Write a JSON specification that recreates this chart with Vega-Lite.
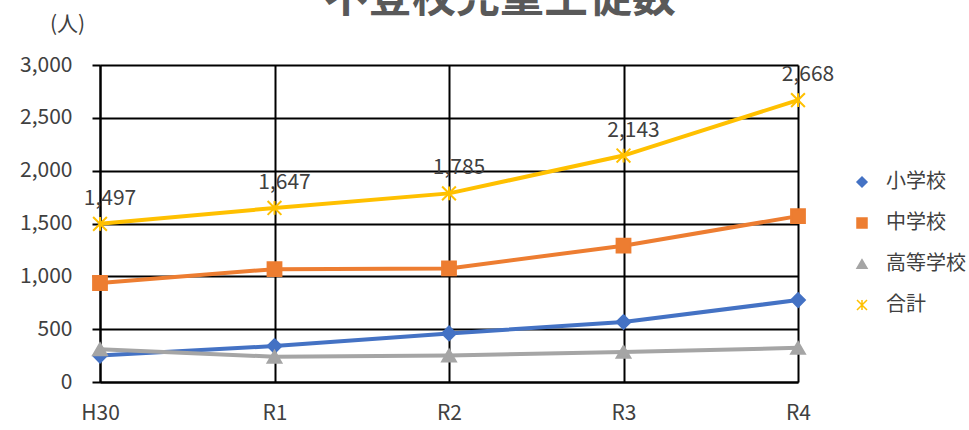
{
  "$schema": "https://vega.github.io/schema/vega-lite/v6.json",
  "autosize": {"type": "none"},
  "padding": {"left": 100, "top": 65, "right": 171, "bottom": 48},
  "width": 698,
  "height": 317,
  "background": "white",
  "title": {"text": "不登校児童生徒数", "fontSize": 44, "fontWeight": "bold", "color": "#595959", "font": "Noto Sans CJK JP", "anchor": "middle", "frame": "group", "offset": -8, "dx": 51},
  "config": {"view": {"stroke": null}, "font": "Noto Sans CJK JP"},
  "data": {"values": [
    {"year": "H30", "series": "小学校", "v": 250},
    {"year": "R1", "series": "小学校", "v": 340},
    {"year": "R2", "series": "小学校", "v": 460},
    {"year": "R3", "series": "小学校", "v": 568},
    {"year": "R4", "series": "小学校", "v": 775},
    {"year": "H30", "series": "中学校", "v": 937},
    {"year": "R1", "series": "中学校", "v": 1068},
    {"year": "R2", "series": "中学校", "v": 1075},
    {"year": "R3", "series": "中学校", "v": 1290},
    {"year": "R4", "series": "中学校", "v": 1570},
    {"year": "H30", "series": "高等学校", "v": 310},
    {"year": "R1", "series": "高等学校", "v": 239},
    {"year": "R2", "series": "高等学校", "v": 250},
    {"year": "R3", "series": "高等学校", "v": 285},
    {"year": "R4", "series": "高等学校", "v": 323},
    {"year": "H30", "series": "合計", "v": 1497},
    {"year": "R1", "series": "合計", "v": 1647},
    {"year": "R2", "series": "合計", "v": 1785},
    {"year": "R3", "series": "合計", "v": 2143},
    {"year": "R4", "series": "合計", "v": 2668}
  ]},
  "encoding": {
    "x": {"field": "year", "type": "ordinal", "sort": null,
      "scale": {"type": "point", "padding": 0},
      "axis": {"title": null, "labelAngle": 0, "labelFontSize": 21, "labelColor": "#404040", "labelPadding": 20, "ticks": false, "grid": true, "gridColor": "#000000", "gridWidth": 2, "domainColor": "#000000", "domainWidth": 2}},
    "y": {"field": "v", "type": "quantitative",
      "scale": {"domain": [0, 3000], "nice": false},
      "axis": {"values": [0, 500, 1000, 1500, 2000, 2500, 3000], "format": ",.0f", "title": "(人)", "titleAngle": 0, "titleX": -33, "titleY": -41, "titleAlign": "center", "titleBaseline": "middle", "titleFontSize": 21, "titleFontWeight": "normal", "titleColor": "#404040", "labelFontSize": 21, "labelColor": "#404040", "labelPadding": 20, "tickSize": 8, "tickColor": "#000000", "tickWidth": 2, "grid": true, "gridColor": "#000000", "gridWidth": 2, "domainColor": "#000000", "domainWidth": 2}}
  },
  "layer": [
    {
      "mark": {"type": "line", "strokeWidth": 4},
      "encoding": {
        "stroke": {"field": "series", "type": "nominal",
          "scale": {"domain": ["小学校", "中学校", "高等学校", "合計"], "range": ["#4472C4", "#ED7D31", "#A5A5A5", "#FFC000"]}}
      }
    },
    {
      "mark": {"type": "point", "filled": true, "size": 190, "strokeWidth": 2, "opacity": 1},
      "encoding": {
        "stroke": {"field": "series", "type": "nominal"},
        "shape": {"field": "series", "type": "nominal",
          "scale": {"domain": ["小学校", "中学校", "高等学校", "合計"], "range": ["diamond", "square", "triangle-up", "M-1,-1L1,1M-1,1L1,-1M0,-1L0,1"]}},
        "fill": {"field": "series", "type": "nominal",
          "scale": {"domain": ["小学校", "中学校", "高等学校", "合計"], "range": ["#4472C4", "#ED7D31", "#A5A5A5", "#FFC000"]},
          "legend": {"title": null, "orient": "none", "legendX": 752, "legendY": 107, "labelFontSize": 20, "labelColor": "#404040", "labelFont": "Noto Sans CJK JP", "symbolSize": 100, "labelOffset": 14, "rowPadding": 21}
        }
      }
    },
    {
      "transform": [{"filter": "datum.series === '合計'"}],
      "mark": {"type": "text", "dx": 10, "dy": -25, "fontSize": 21, "color": "#404040", "font": "Noto Sans CJK JP"},
      "encoding": {"text": {"field": "v", "type": "quantitative", "format": ","}}
    }
  ]
}
